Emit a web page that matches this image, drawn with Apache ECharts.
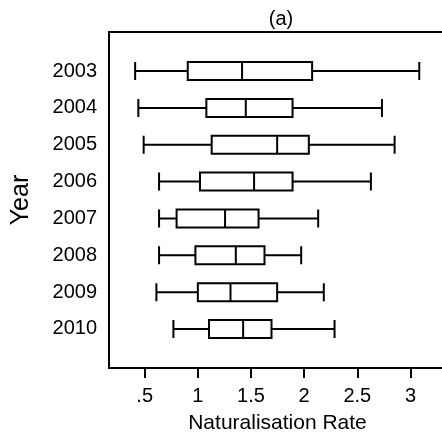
<!DOCTYPE html>
<html>
<head>
<meta charset="utf-8">
<script src="https://cdn.jsdelivr.net/npm/echarts@6/dist/echarts.min.js"></script>
<style>
html,body{margin:0;padding:0;background:#fff;}
#chart{width:442px;height:434px;}
</style>
</head>
<body>
<div id="chart"></div>
<script>
// Data
const years = ['2003','2004','2005','2006','2007','2008','2009','2010'];
const whiskerLow = [0.41, 0.44, 0.49, 0.635, 0.635, 0.635, 0.61, 0.77];
const q1         = [0.905, 1.08, 1.13, 1.02, 0.80, 0.977, 1.00, 1.105];
const median     = [1.416, 1.451, 1.746, 1.529, 1.256, 1.357, 1.307, 1.426];
const q3         = [2.075, 1.891, 2.044, 1.891, 1.571, 1.627, 1.746, 1.693];
const whiskerHigh= [3.083, 2.732, 2.851, 2.628, 2.132, 1.972, 2.185, 2.286];
const tickValues = [0.5, 1, 1.5, 2, 2.5, 3];
const tickLabels = ['.5', '1', '1.5', '2', '2.5', '3'];
const xMin = 0.164, xMax = 3.391;

const boxData = years.map((y, i) => [whiskerLow[i], q1[i], median[i], q3[i], whiskerHigh[i]]);
const font = 'Liberation Sans, Arial, Helvetica, sans-serif';

const chart = echarts.init(document.getElementById('chart'), null, {renderer: 'canvas'});
chart.setOption({
  animation: false,
  backgroundColor: '#fff',
  title: {
    text: '(a)', left: 276, top: 4, textAlign: 'center',
    textStyle: {fontFamily: font, fontSize: 20, fontWeight: 'normal', color: '#000'}
  },
  grid: [
    {left: 109, right: -10, top: 52.6, bottom: 434 - 347.4, show: false, containLabel: false, outerBoundsMode: 'none'},
    {left: 109, right: -10, top: 32, bottom: 66, show: true, borderColor: '#000', borderWidth: 2, backgroundColor: 'transparent', containLabel: false, outerBoundsMode: 'none'}
  ],
  xAxis: [
    {gridIndex: 0, type: 'value', min: xMin, max: xMax, show: false},
    {gridIndex: 1, type: 'value', min: xMin, max: xMax,
     axisLine: {show: false},
     splitLine: {show: false},
     axisTick: {show: true, inside: false, length: 10, lineStyle: {color: '#000', width: 2}, customValues: tickValues},
     axisLabel: {show: true, margin: 18, customValues: tickValues, color: '#000', fontFamily: font, fontSize: 20,
       formatter: v => { const i = tickValues.indexOf(v); return i >= 0 ? tickLabels[i] : ''; }},
     name: 'Naturalisation Rate', nameLocation: 'middle', nameGap: 45,
     nameTextStyle: {fontFamily: font, fontSize: 21, color: '#000', padding: [0, 6, 0, 0]}
    }
  ],
  yAxis: [
    {gridIndex: 0, type: 'category', data: years, inverse: true,
     axisLine: {show: false}, axisTick: {show: false}, splitLine: {show: false},
     axisLabel: {margin: 12, color: '#000', fontFamily: font, fontSize: 20},
     name: 'Year', nameLocation: 'middle', nameGap: 75, nameRotate: 90,
     nameTextStyle: {fontFamily: font, fontSize: 25, color: '#000'}
    },
    {gridIndex: 1, type: 'value', min: 0, max: 1, show: false}
  ],
  series: [{
    type: 'boxplot',
    xAxisIndex: 0, yAxisIndex: 0,
    layout: 'horizontal',
    boxWidth: [18, 18],
    data: boxData,
    itemStyle: {color: '#fff', borderColor: '#000', borderWidth: 2},
    emphasis: {disabled: true}
  }]
});
</script>
</body>
</html>
